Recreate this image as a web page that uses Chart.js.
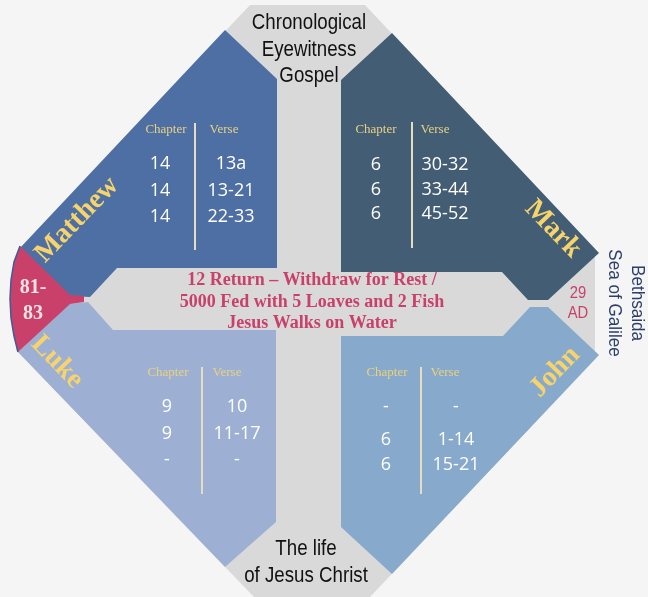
<!DOCTYPE html>
<html><head><meta charset="utf-8">
<script src="https://cdn.jsdelivr.net/npm/chart.js@4.4.1/dist/chart.umd.min.js"></script>
<style>html,body{margin:0;padding:0;background:#f5f5f5;}#wrap{width:648px;height:597px;position:relative;}</style>
</head><body><div id="wrap"><canvas id="c"></canvas></div>
<script>
// ---------- DATA ----------
const gospels = ['Matthew', 'Mark', 'Luke', 'John'];
const columnHeaders = ['Chapter', 'Verse'];
const matthewChapters = ['14', '14', '14'];
const matthewVerses = ['13a', '13-21', '22-33'];
const markChapters = ['6', '6', '6'];
const markVerses = ['30-32', '33-44', '45-52'];
const lukeChapters = ['9', '9', '-'];
const lukeVerses = ['10', '11-17', '-'];
const johnChapters = ['-', '6', '6'];
const johnVerses = ['-', '1-14', '15-21'];
const titleLines = ['Chronological', 'Eyewitness', 'Gospel'];
const footerLines = ['The life', 'of Jesus Christ'];
const eventLines = ['12 Return \u2013 Withdraw for Rest /', '5000 Fed with 5 Loaves and 2 Fish', 'Jesus Walks on Water'];
const placeLines = ['Bethsaida', 'Sea of Galilee'];
const dateLines = ['29', 'AD'];
const sequenceLines = ['81-', '83'];

// ---------- LAYOUT (geometry / styling only) ----------
const SHAPES = {
  grey:    [[250,5],[365,5],[595,249],[595,359],[370,597],[254,597],[16,350],[18,250]],
  matthew: [[20,248],[225,30],[277,79],[277,268],[117,268],[90,297],[68,296]],
  mark:    [[392,33],[599,253],[548,300],[528,300],[502,272],[341,272],[341,80]],
  luke:    [[18,352],[68,304],[88,302],[113,330],[276,330],[276,522],[225,567]],
  john:    [[530,307],[548,307],[599,355],[392,574],[341,527],[341,336],[503,336]],
  pink:    [[20,246],[14,262],[11,280],[10,299],[11,318],[14,336],[18,352],[70,304],[84,302],[84,296],[70,295]],
  pinkEdge:[[20,246],[14,262],[11,280],[10,299],[11,318],[14,336],[18,352]]
};
const COLORS = { grey:'#d9d9d9', matthew:'#4e6fa3', mark:'#435d75', luke:'#9db0d4', john:'#87a9cb', pink:'#c9416b' };
const TABLES = {
  Matthew:{hdr:[166,224], hdrY:133, col:[160,231], rows:[169,196,222], div:[195,123,250], name:[77,220,-46]},
  Mark:   {hdr:[376,435], hdrY:133, col:[376,445], rows:[170,195,219], div:[412,122,248], name:[553,229,46]},
  Luke:   {hdr:[168,227], hdrY:376, col:[167,237], rows:[412,439,465], div:[202,367,494], name:[57,362,46]},
  John:   {hdr:[387,445], hdrY:376, col:[386,456], rows:[412,445,470], div:[421,367,494], name:[555,372,-46]}
};
const tableData = {
  Matthew:[matthewChapters, matthewVerses], Mark:[markChapters, markVerses],
  Luke:[lukeChapters, lukeVerses], John:[johnChapters, johnVerses]
};

const toPts = a => a.map(p => ({x:p[0], y:p[1]}));
function shapeDS(key, order) {
  return { type:'line', data: toPts(SHAPES[key]), showLine:true, fill:'shape', backgroundColor: COLORS[key],
    borderWidth:0, borderColor:'rgba(0,0,0,0)', pointRadius:0, tension:0, order };
}
const datasets = [
  shapeDS('grey', 10), shapeDS('matthew', 9), shapeDS('mark', 8), shapeDS('luke', 7), shapeDS('john', 6), shapeDS('pink', 5),
  { type:'line', data: toPts(SHAPES.pinkEdge), showLine:true, fill:false, borderColor:'#3d5c98', borderWidth:1.5, pointRadius:0, order:4 }
];
gospels.forEach(g => {
  const d = TABLES[g].div;
  datasets.push({ type:'line', data:[{x:d[0],y:d[1]},{x:d[0],y:d[2]}], showLine:true, fill:false,
    borderColor:'#e6dcc2', borderWidth:2, pointRadius:0, order:1 });
});

function txt(chart, text, x, y, o) {
  const ctx = chart.ctx;
  const X = chart.scales.x.getPixelForValue(x), Y = chart.scales.y.getPixelForValue(y);
  ctx.save();
  ctx.translate(X, Y);
  if (o.rot) ctx.rotate(o.rot * Math.PI / 180);
  if (o.sx) ctx.scale(o.sx, 1);
  ctx.font = o.font; ctx.fillStyle = o.color;
  ctx.textAlign = o.align || 'center'; ctx.textBaseline = o.base || 'alphabetic';
  ctx.fillText(text, 0, 0);
  ctx.restore();
}
const SANS = "'Liberation Sans', Arial, sans-serif";
const SERIF = "'Liberation Serif', 'DejaVu Serif', serif";
const labelsPlugin = {
  id:'labels',
  afterDatasetsDraw(chart) {
    titleLines.forEach((t,i) => txt(chart, t, 309, 29 + i*26.5, {font:'22px '+SANS, color:'#111', sx:0.85}));
    footerLines.forEach((t,i) => txt(chart, t, 306, 555 + i*27, {font:'22px '+SANS, color:'#111', sx:0.85}));
    dateLines.forEach((t,i) => txt(chart, t, 578, 298 + i*20, {font:'17px '+SANS, color:'#c9416b', sx:0.87}));
    // rotated place text: first line on the right
    placeLines.forEach((t,i) => txt(chart, t, 632 - i*23, 303, {font:'19px '+SANS, color:'#2e3e6c', sx:0.9, rot:90, base:'alphabetic'}));
    sequenceLines.forEach((t,i) => txt(chart, t, 33, 293 + i*26, {font:'bold 20px '+SERIF, color:'#f3e2e4'}));
    eventLines.forEach((t,i) => txt(chart, t, 312, 285 + i*21.5, {font:'bold 18px '+SERIF, color:'#c9416b'}));
    gospels.forEach(g => {
      const L = TABLES[g];
      txt(chart, g, L.name[0], L.name[1], {font:'bold 28px '+SERIF, color:'#f6d36b', rot:L.name[2], base:'middle'});
      columnHeaders.forEach((h,i) => txt(chart, h, L.hdr[i], L.hdrY, {font:'13px '+SERIF, color:'#ead27e'}));
      tableData[g].forEach((col,ci) => col.forEach((v,ri) =>
        txt(chart, v, L.col[ci], L.rows[ri], {font:"18px 'Open Sans', 'Noto Sans', sans-serif", color:'#ffffff'})));
    });
  }
};

new Chart(document.getElementById('c'), {
  type:'scatter',
  data:{ datasets },
  options:{
    responsive:true, maintainAspectRatio:false, animation:false,
    layout:{ padding:0 },
    plugins:{ legend:{display:false}, tooltip:{enabled:false} },
    scales:{
      x:{ type:'linear', min:0, max:648, display:false },
      y:{ type:'linear', min:0, max:597, reverse:true, display:false }
    }
  },
  plugins:[labelsPlugin]
});
</script></body></html>
